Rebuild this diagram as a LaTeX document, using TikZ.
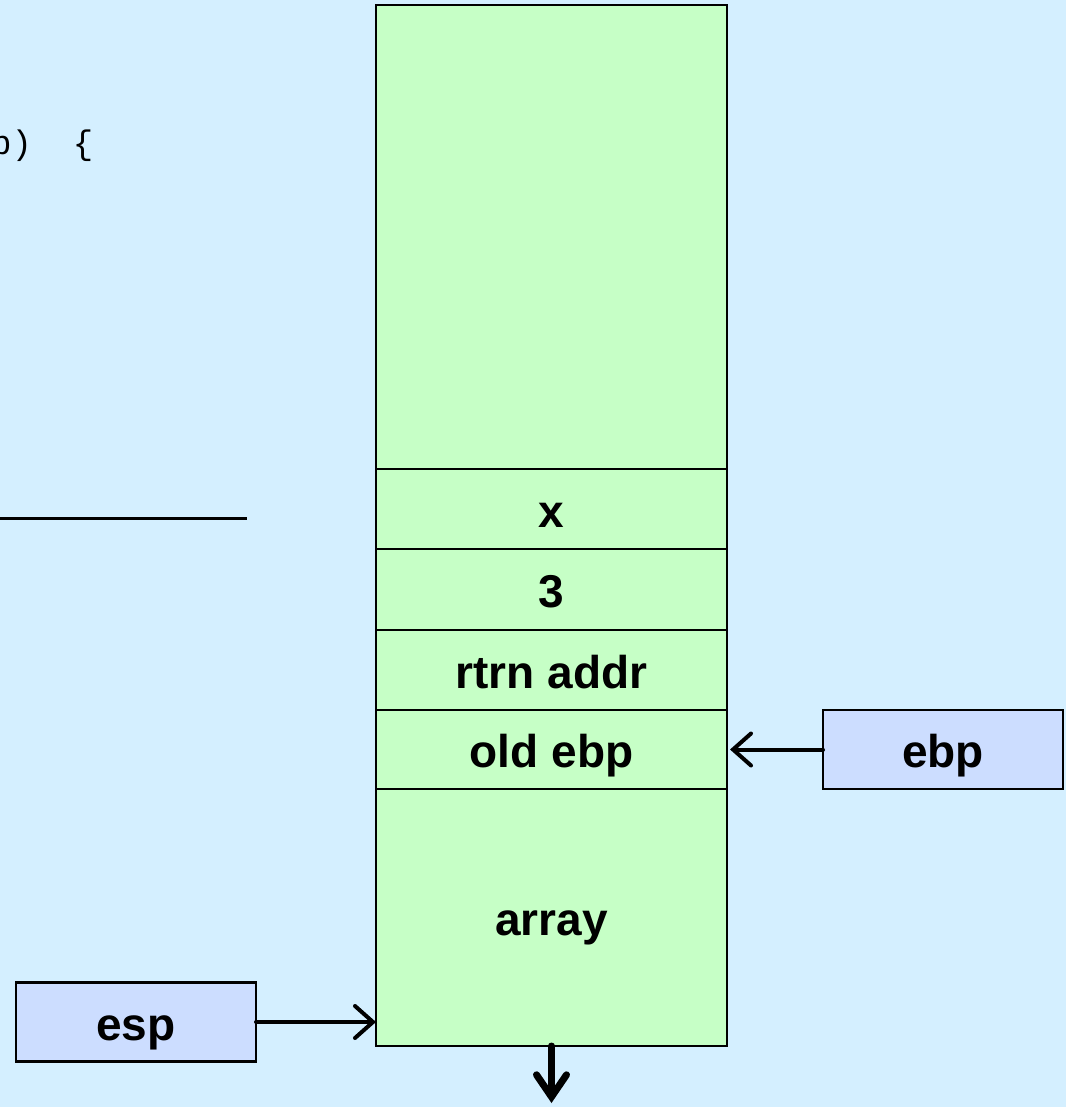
\documentclass[tikz,border=0pt]{standalone}
\usepackage{fontspec}
\setmainfont{Liberation Sans}
\newfontfamily\codefont{Liberation Mono}
\usetikzlibrary{arrows.meta}
\definecolor{bgblue}{RGB}{212,239,255}
\definecolor{cellgreen}{RGB}{198,255,198}
\definecolor{regblue}{RGB}{204,221,255}
\tikzset{
  lbl/.style={font=\fontsize{46}{50}\selectfont\bfseries, text height=42pt, text depth=6pt},
  cell/.style={lbl, draw=black, line width=2.5pt, fill=cellgreen, minimum width=351pt,
    inner sep=0pt, outer sep=0pt, anchor=north},
  reg/.style={lbl, draw=black, line width=2.5pt, fill=regblue, minimum width=240pt,
    minimum height=79pt, inner sep=0pt, outer sep=0pt},
  ptr/.style={line width=4pt, line cap=round,
    -{Straight Barb[length=18pt,width=32pt,line cap=round]}},
  bigptr/.style={line width=7pt, line cap=round,
    -{Straight Barb[length=22pt,width=30pt,line cap=round]}},
}
\begin{document}
\begin{tikzpicture}[x=1pt,y=-1pt]
  \useasboundingbox (0,0) rectangle (1066,1107);
  \clip (0,0) rectangle (1066,1107);
  \fill[bgblue] (0,0) rectangle (1066,1107);

  % tail of the code listing and the separator rule
  \node[anchor=base west, inner sep=0pt, font=\codefont\fontsize{34}{40}\selectfont]
    (code) at (-9,155) {b)~~\{};
  \draw[line width=3pt] (0,518) coordinate (ruleL) -- (247,518) coordinate (ruleR);

  % stack frame
  \node[cell, minimum height=464pt] (top) at (551.5,5) {};
  \node[cell, minimum height=80pt] (cx) at (top.south) {x};
  \node[cell, minimum height=81pt] (c3) at (cx.south) {3};
  \node[cell, minimum height=80pt] (ret) at (c3.south) {rtrn addr};
  \node[cell, minimum height=79pt] (oldebp) at (ret.south) {old ebp};
  \node[cell, minimum height=257pt] (arr) at (oldebp.south) {array};

  % registers
  \node[reg] (ebp) at (943,749.5) {ebp};
  \node[reg] (esp) at (136,1022) {esp};

  \coordinate (ebptip) at ([xshift=3pt]oldebp.east |- ebp.west);
  \coordinate (esptip) at (arr.west |- esp.east);
  \coordinate (growtip) at ([yshift=-57pt]arr.south);
  \draw[ptr] (ebp.west) -- (ebptip);
  \draw[ptr] (esp.east) -- (esptip);
  \draw[bigptr] (arr.south) -- (growtip);
\end{tikzpicture}
\end{document}
